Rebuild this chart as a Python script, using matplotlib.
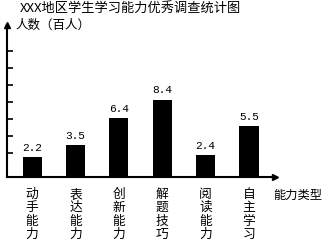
import numpy as np
import matplotlib
matplotlib.use('Agg')
import matplotlib.pyplot as plt

plt.rcParams['font.family'] = ['Noto Sans CJK SC', 'DejaVu Sans']

# data
categories = ['动手能力', '表达能力', '创新能力', '解题技巧', '阅读能力', '自主学习']
values = [2.2, 3.5, 6.4, 8.4, 2.4, 5.5]
value_labels = ['2.2', '3.5', '6.4', '8.4', '2.4', '5.5']
title = 'XXX地区学生学习能力优秀调查统计图'
y_title = '人数（百人）'
x_title = '能力类型'

fig = plt.figure(figsize=(3.32, 2.48), dpi=100)
# axes placed in pixel terms: y-axis at x=7, baseline at y=177, top at y=25
ax = fig.add_axes([7 / 332, 1 - 177 / 248, 268 / 332, 152 / 248])

x = np.arange(len(categories))
ax.bar(x, values, width=0.44, color='black')

# value labels above the bars
for xi, v, lab in zip(x, values, value_labels):
    ax.annotate(lab, (xi, v), xytext=(0, 3), textcoords='offset points',
                ha='center', va='bottom', fontsize=8, family='Liberation Mono')

# vertical category labels under the axis
for xi, cat in zip(x, categories):
    ax.text(xi, -0.07, '\n'.join(cat), transform=ax.get_xaxis_transform(),
            ha='center', va='top', fontsize=9.2, linespacing=1.05)

ax.set_xlim(-0.58, 5.6)
ax.set_ylim(0, 16.5)

# unlabelled ticks on the y axis
ax.set_yticks(2.6 + 1.85 * np.arange(7))
ax.set_yticklabels([])
ax.tick_params(axis='y', direction='in', length=4, width=1.2)
ax.set_xticks([])

for s in ['top', 'right']:
    ax.spines[s].set_visible(False)
for s in ['left', 'bottom']:
    ax.spines[s].set_linewidth(1.5)

# arrow heads
ax.plot([0], [1.0], marker='^', color='black', markersize=5,
        transform=ax.transAxes, clip_on=False)
ax.plot([1.0], [0], marker='>', color='black', markersize=5,
        transform=ax.transAxes, clip_on=False)

fig.text(20 / 332, 1 - 9 / 248, title, fontsize=9.5,
         va='center', ha='left')
fig.text(15 / 332, 1 - 25 / 248, y_title, fontsize=9, va='center', ha='left')
fig.text(273 / 332, 1 - 195 / 248, x_title, fontsize=8.8, va='center', ha='left')

fig.savefig('out.png', dpi=100)
